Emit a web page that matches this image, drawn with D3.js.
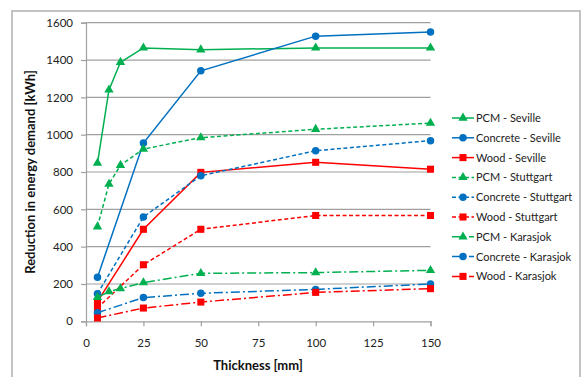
<!DOCTYPE html>
<html><head><meta charset="utf-8">
<script src="https://d3js.org/d3.v7.min.js"></script>
<style>body{margin:0;background:#fff}svg{display:block}text{font-family:Lato,"Open Sans",sans-serif}</style>
</head><body><svg id="c" width="581" height="377"></svg>
<script>
const thickness = [5, 10, 15, 25, 50, 100, 150];
const thicknessShort = [5, 25, 50, 100, 150];
const xTicks = [0, 25, 50, 75, 100, 125, 150];
const yTicks = [0, 200, 400, 600, 800, 1000, 1200, 1400, 1600];

const pcmSeville = [848, 1240, 1388, 1465, 1455, 1465, 1465];
const concreteSeville = [236, 955, 1342, 1528, 1550];
const woodSeville = [105, 493, 798, 852, 815];
const pcmStuttgart = [507, 735, 836, 923, 984, 1029, 1062];
const concreteStuttgart = [148, 559, 780, 914, 968];
const woodStuttgart = [72, 303, 493, 567, 567];
const pcmKarasjok = [128, 159, 175, 207, 257, 261, 273];
const concreteKarasjok = [46, 127, 150, 171, 200];
const woodKarasjok = [18, 71, 103, 155, 175];

const seriesNames = ["PCM - Seville","Concrete - Seville","Wood - Seville","PCM - Stuttgart","Concrete - Stuttgart","Wood - Stuttgart","PCM - Karasjok","Concrete - Karasjok","Wood - Karasjok"];
const seriesValues = [pcmSeville, concreteSeville, woodSeville, pcmStuttgart, concreteStuttgart, woodStuttgart, pcmKarasjok, concreteKarasjok, woodKarasjok];

const GREEN = "#00B050", BLUE = "#0070C0", RED = "#FF0000";
const colors = [GREEN, BLUE, RED];
const shapes = [d3.symbolTriangle, d3.symbolCircle, d3.symbolSquare];
const shapeSizes = [38, 44, 50];
const dashes = [null, "4,2.5", "9,3,2,3"];

const svg = d3.select("#c");
svg.append("rect").attr("x", 12).attr("y", 11).attr("width", 568).attr("height", 380)
  .attr("fill", "none").attr("stroke", "#c3c3c3").attr("stroke-width", 2);

const x = d3.scaleLinear().domain([0, 150]).range([86, 430.5]);
const y = d3.scaleLinear().domain([0, 1600]).range([321.3, 22.7]);

svg.append("g").selectAll("line").data(yTicks.filter(d => d > 0)).join("line")
  .attr("x1", x(0)).attr("x2", x(150)).attr("y1", d => y(d)).attr("y2", d => y(d))
  .attr("stroke", "#a0a0a0").attr("stroke-width", 1.2);

const yAxis = svg.append("g").attr("transform", `translate(${x(0)},0)`)
  .call(d3.axisLeft(y).tickValues(yTicks).tickFormat(d3.format("d")).tickSize(5).tickPadding(8));
const xAxis = svg.append("g").attr("transform", `translate(0,${y(0)})`)
  .call(d3.axisBottom(x).tickValues(xTicks).tickFormat(d3.format("d")).tickSize(5).tickPadding(13));
[yAxis, xAxis].forEach(a => {
  a.selectAll("path").attr("stroke", "#a0a0a0").attr("stroke-width", 1.2);
  a.selectAll("line").attr("stroke", "#a0a0a0").attr("stroke-width", 1.2);
  a.selectAll("text").attr("font-size", 11.5).attr("fill", "#222").style("font-family", "Lato, sans-serif");
});

svg.append("text").attr("x", 258).attr("y", 370).attr("text-anchor", "middle")
  .attr("font-size", 13).attr("font-weight", "bold").attr("fill", "#111").text("Thickness [mm]");
svg.append("text").attr("transform", `translate(35,${(y(0)+y(1600))/2}) rotate(-90)`).attr("text-anchor", "middle")
  .attr("font-size", 13).attr("font-weight", "bold").attr("fill", "#111").text("Reduction in energy demand [kWh]");

const line = d3.line();
seriesValues.forEach((vals, i) => {
  const m = i % 3, s = Math.floor(i / 3);
  const xs = vals.length === 7 ? thickness : thicknessShort;
  const pts = vals.map((v, k) => [x(xs[k]), y(v)]);
  svg.append("path").attr("d", line(pts)).attr("fill", "none").attr("stroke", colors[m])
    .attr("stroke-width", 1.5).attr("stroke-dasharray", dashes[s]);
  svg.append("g").selectAll("path").data(pts).join("path")
    .attr("transform", p => `translate(${p[0]},${p[1]})`)
    .attr("d", d3.symbol().type(shapes[m]).size(shapeSizes[m])).attr("fill", colors[m]);
});

const lg = svg.append("g");
seriesNames.forEach((name, i) => {
  const m = i % 3, s = Math.floor(i / 3);
  const yy = 118 + i * 19.8;
  lg.append("line").attr("x1", 452).attr("x2", 474).attr("y1", yy).attr("y2", yy)
    .attr("stroke", colors[m]).attr("stroke-width", 1.5).attr("stroke-dasharray", dashes[s]);
  lg.append("path").attr("transform", `translate(463,${yy})`)
    .attr("d", d3.symbol().type(shapes[m]).size(shapeSizes[m])).attr("fill", colors[m]);
  lg.append("text").attr("x", 476).attr("y", yy + 4).attr("font-size", 11).attr("fill", "#222").text(name);
});
</script></body></html>
